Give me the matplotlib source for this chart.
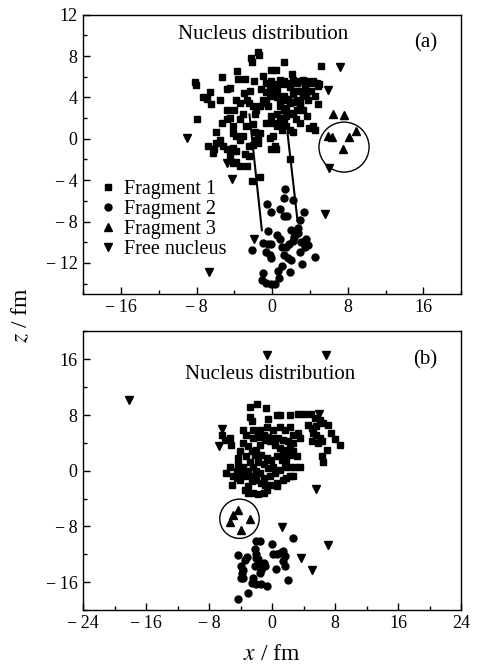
import matplotlib
matplotlib.use("Agg")
import matplotlib.pyplot as plt
from matplotlib.patches import Ellipse
from matplotlib.ticker import FixedLocator, MultipleLocator

plt.rcParams['font.family'] = ['Liberation Serif', 'DejaVu Serif']
plt.rcParams['mathtext.fontset'] = 'stix'

# ---- panel (a) data (x, z) in fm ----
a_frag1 = [(-2.2, 7.8), (-1.5, 8.4), (-1.4, 8.1), (-2.1, 7.4), (1.3, 7.4), (-0.1, 6.7), (0.4, 6.7),
           (2.15, 6.3), (5.2, 7.0), (-3.7, 6.6), (-5.3, 6.0), (-3.6, 5.8), (-2.9, 5.8), (-1.9, 5.6),
           (-1.0, 6.1), (-8.2, 5.5), (-8.1, 5.2), (-6.6, 4.5), (-7.3, 4.0), (-6.9, 3.9), (-6.5, 3.4),
           (-8.0, 1.9), (-5.9, 0.7), (-5.5, 3.8), (-4.8, 4.8), (-4.5, 4.9), (-3.8, 3.8), (-3.4, 3.5),
           (-4.0, 2.8), (-4.8, 2.8), (-4.5, 2.0), (-4.8, 1.9), (-4.1, 1.2), (-3.4, 1.9), (-3.1, 2.4),
           (-2.7, 3.8), (-2.5, 3.5), (-2.0, 3.2), (-1.7, 2.8), (-1.8, 2.4), (-2.8, 1.2), (-2.0, 1.4),
           (-1.8, 0.7), (-4.1, 0.6), (-3.8, 0.3), (-3.4, -0.1), (-3.1, 0.3), (-5.9, -0.4), (-5.5, -0.1),
           (-6.2, -1.0), (-6.8, -0.7), (-6.3, -1.4), (-5.2, -0.7), (-4.8, -1.0), (-4.5, -1.4), (-4.1, -0.9),
           (-3.8, -1.2), (-4.5, -2.0), (-4.1, -2.3), (-3.8, -2.2), (-3.4, -2.6), (-2.7, -2.6), (-2.5, -0.7),
           (-2.0, -0.6), (-1.5, -0.4), (-1.8, -0.1), (-1.5, 0.2), (-1.3, 0.6), (-2.15, -4.1), (-1.27, -3.7),
           (-0.6, 5.4), (-0.25, 5.1), (-0.1, 5.6), (0.5, 5.3), (0.8, 5.7), (1.2, 5.6), (1.3, 5.3),
           (1.7, 5.4), (1.9, 5.0), (2.2, 5.7), (2.6, 5.4), (2.9, 5.6), (3.3, 5.7), (3.5, 5.4), (3.6, 5.6),
           (4.0, 5.4), (4.3, 5.6), (4.7, 5.4), (4.9, 5.1), (5.0, 5.3), (4.1, 4.6), (4.5, 4.1), (4.3, 1.2),
           (4.5, 0.9), (4.9, 3.4), (-0.6, 4.5), (-0.25, 4.1), (0.1, 4.3), (0.5, 4.0), (0.8, 3.8),
           (1.2, 4.1), (1.5, 3.8), (1.9, 3.5), (2.2, 3.6), (2.6, 3.8), (2.9, 3.5), (3.3, 4.1), (3.6, 4.3),
           (3.8, 3.8), (-1.0, 3.8), (-0.6, 3.5), (-0.4, 3.2), (-1.3, 3.2), (-0.1, 2.2), (0.5, 2.4),
           (0.8, 2.0), (1.2, 1.9), (1.5, 2.2), (1.9, 2.4), (2.2, 2.5), (2.6, 2.8), (2.9, 3.2), (3.3, 2.8),
           (0.1, 1.5), (-0.6, 1.5), (0.5, 1.2), (0.8, 1.4), (1.5, 1.2), (1.9, 0.9), (2.2, 0.7), (2.9, 1.5),
           (0.1, 0.3), (-0.25, 0.1), (0.3, -0.7), (-0.1, -1.0), (0.4, -1.0), (1.9, -2.0), (1.7, 3.9),
           (2.2, 4.3), (3.1, 4.6), (3.5, 4.9), (2.6, 4.6), (1.2, 2.8), (0.8, 3.2), (1.5, 3.0), (0.1, 4.9),
           (0.5, 4.6), (-3.0, 4.4), (-2.3, 4.6), (-1.2, 4.8), (-5.3, 1.5), (-2.9, -1.5), (-2.4, -1.7),
           (3.7, 2.2), (3.9, 1.0), (2.5, 1.9), (1.0, 0.9)]
a_frag2 = [(1.4, -4.9), (1.2, -5.7), (2.2, -5.9), (-0.5, -6.3), (0.8, -6.8), (-0.1, -7.1), (1.2, -7.5),
           (1.6, -7.5), (3.4, -7.1), (2.9, -7.9), (2.7, -8.6), (2.0, -8.8), (-0.4, -8.9), (0.5, -9.3),
           (2.7, -9.1), (2.3, -9.5), (2.2, -9.9), (1.8, -10.2), (3.6, -9.7), (3.1, -10.0), (3.8, -10.3),
           (3.5, -10.5), (2.9, -10.9), (0.8, -9.7), (1.0, -10.5), (1.5, -10.5), (1.3, -11.2), (1.7, -11.5),
           (2.0, -11.7), (-1.0, -10.1), (-0.4, -10.2), (-0.1, -10.2), (-0.6, -10.9), (-0.25, -11.2),
           (-0.1, -11.5), (-2.1, -10.8), (4.5, -11.4), (3.2, -12.1), (1.0, -12.3), (0.6, -12.8),
           (1.9, -12.9), (-1.0, -13.0), (-1.1, -13.7), (-0.6, -13.9), (-0.1, -14.0), (0.3, -14.0),
           (0.7, -13.5)]
a_frag3 = [(6.4, 2.4), (7.6, 2.35), (5.9, 0.26), (6.3, 0.16), (8.15, 0.2), (8.9, 0.75), (7.45, -1.0)]
a_free = [(-9.0, 0.1), (7.2, 6.9), (5.9, 4.7), (6.0, -2.8), (5.6, -7.3), (-4.3, -3.9), (-4.8, -2.3),
          (-6.7, -12.9), (-1.9, -9.7)]
a_lines = [[(-2.4, 2.35), (-1.09, -8.85)], [(1.62, 0.58), (2.68, -7.9)]]
a_circle = (7.6, -0.8, 5.3, 4.84)  # centre x, z, width, height

# ---- panel (b) data ----
b_frag1 = [(-1.9, 9.6), (-2.8, 9.1), (-0.8, 9.0), (0.55, 8.0), (1.0, 8.0), (-0.5, 7.4), (-2.8, 7.7),
           (-2.6, 7.1), (2.2, 8.0), (3.3, 8.1), (4.1, 8.1), (4.9, 8.1), (5.4, 7.5), (6.1, 7.3), (6.5, 6.8),
           (7.1, 6.5), (7.5, 5.4), (8.0, 4.5), (8.6, 3.7), (4.6, 6.6), (5.0, 6.1), (5.6, 6.4), (5.2, 5.4),
           (5.6, 5.2), (6.1, 4.7), (5.0, 4.2), (5.8, 4.0), (6.3, 4.2), (6.9, 3.0), (6.3, 2.05), (6.4, 1.3),
           (-6.4, 5.2), (-6.0, 4.4), (-5.4, 4.7), (-5.2, 3.7), (-5.4, 0.6), (-5.8, -0.4), (-5.0, -0.8),
           (-5.1, -2.0), (-4.3, 0.9), (-4.5, -0.1), (-4.1, -1.3), (-3.5, -2.7), (-3.05, -2.2),
           (-3.05, -3.2), (-2.4, -3.2), (-1.8, -3.4), (-1.1, -3.2), (-0.7, -2.7), (-0.9, -2.0),
           (-0.3, -2.1), (0.55, -2.2), (0.55, -1.8), (1.4, -1.3), (1.8, -1.05), (2.2, -0.8), (2.7, -0.8),
           (2.9, 0.6), (3.5, 0.6), (3.1, 2.05), (2.7, 2.8), (-3.7, 5.9), (-3.3, 5.2), (-2.4, 5.9),
           (-1.6, 5.9), (-0.7, 6.35), (0.1, 5.9), (1.0, 6.35), (1.6, 5.9), (2.2, 6.35), (2.7, 5.2),
           (3.3, 5.4), (3.5, 4.7), (2.7, 4.0), (2.2, 3.5),
           (-3.7, 4.0), (-3.05, 3.5), (-2.6, 2.8), (-2.2, 2.3), (-3.3, 2.05), (-2.8, 1.3), (-2.4, 0.6),
           (-2.0, -0.1), (-3.7, 0.6), (-3.05, -0.1), (-2.4, -0.8), (-1.6, -0.3), (-1.1, -1.05),
           (-0.3, -0.8), (0.3, -0.3), (1.0, 0.15), (1.6, 0.6), (1.8, 1.6), (1.4, 2.5), (1.0, 3.25),
           (0.3, 3.7), (-0.3, 4.2), (-0.9, 4.4), (-1.6, 3.7), (-2.0, 3.0), (-1.4, 2.3), (-0.7, 1.8),
           (-0.1, 1.6), (0.55, 2.05), (1.2, 1.6), (0.1, 0.6), (-0.5, 0.4), (-1.1, 0.9), (-1.8, 1.3),
           (-2.4, 4.7), (-1.8, 4.9), (-1.1, 5.2), (-0.5, 4.9), (0.1, 4.7), (0.8, 4.7), (1.4, 4.4),
           (2.0, 4.2), (1.8, 3.0), (2.2, 2.3), (2.2, 0.6), (-3.3, -0.8), (-2.6, -1.5), (-2.0, -1.3),
           (-1.4, -1.8), (-4.1, 2.8), (-4.3, 1.8), (-3.9, -0.3), (-4.5, -1.05)]
b_frag2 = [(-2.0, -10.1), (-1.6, -10.1), (0.04, -10.5), (2.7, -9.7), (-4.3, -12.1), (-3.25, -12.4),
           (-3.5, -12.8), (-2.2, -11.3), (-2.0, -12.0), (-2.0, -12.5), (-1.8, -12.7), (-3.9, -13.7),
           (-3.7, -14.2), (-3.8, -14.7), (-4.0, -15.4), (-3.7, -15.4), (-2.2, -13.7), (-1.8, -13.5),
           (-1.1, -13.2), (-0.9, -13.7), (-1.4, -14.2), (-1.6, -14.7), (-2.4, -15.4), (-2.6, -16.1),
           (-2.0, -16.3), (-1.4, -16.3), (-0.7, -16.6), (-3.05, -17.5), (-4.3, -18.5), (0.5, -14.1),
           (0.1, -12.0), (0.55, -12.0), (1.0, -11.8), (1.4, -11.6), (1.6, -12.3), (1.4, -13.0),
           (1.6, -13.7), (2.0, -15.7)]
b_frag3 = [(-4.4, -5.6), (-4.96, -6.3), (-5.4, -7.3), (-2.8, -6.9), (-4.0, -8.45)]
b_free = [(-0.7, 16.6), (6.8, 16.6), (-18.2, 10.2), (5.9, 8.2), (-6.4, 6.0), (-6.7, 3.5), (5.6, -2.6),
          (1.2, -8.1), (7.1, -10.7), (3.6, -12.6), (5.0, -14.2)]
b_circle = (-4.15, -6.9, 5.0, 5.64)

labels = ["Fragment 1", "Fragment 2", "Fragment 3", "Free nucleus"]
markers = ["s", "o", "^", "v"]
msizes = [4.8, 5.0, 5.5, 5.5]


def fmt(v):
    return ("\u2212\u2009%d" % abs(v)) if v < 0 else "%d" % v


def style_axes(ax, xt, yt, xminor, yminor):
    ax.xaxis.set_major_locator(FixedLocator(xt))
    ax.set_xticklabels([fmt(v) for v in xt])
    ax.yaxis.set_major_locator(FixedLocator(yt))
    ax.set_yticklabels([fmt(v) for v in yt])
    ax.xaxis.set_minor_locator(MultipleLocator(xminor))
    ax.yaxis.set_minor_locator(MultipleLocator(yminor))
    ax.tick_params(which="both", direction="in", top=False, right=False, labelsize=13, pad=4)
    ax.tick_params(which="major", length=5, width=1)
    ax.tick_params(which="minor", length=3, width=1)
    for s in ax.spines.values():
        s.set_linewidth(1.0)


def draw_points(ax, groups):
    for pts, m, ms, lab in zip(groups, markers, msizes, labels):
        xs = [p[0] for p in pts]
        zs = [p[1] for p in pts]
        ax.plot(xs, zs, linestyle="none", marker=m, markersize=ms, color="black", label=lab)


fig = plt.figure(figsize=(4.83, 6.71), dpi=100)
axa = fig.add_axes([0.172, 0.562, 0.783, 0.416])
axb = fig.add_axes([0.172, 0.091, 0.783, 0.415])

# panel (a)
draw_points(axa, [a_frag1, a_frag2, a_frag3, a_free])
for seg in a_lines:
    axa.plot([seg[0][0], seg[1][0]], [seg[0][1], seg[1][1]], color="black", lw=1.5)
axa.add_patch(Ellipse(a_circle[:2], a_circle[2], a_circle[3], fill=False, ec="black", lw=1.0))
axa.set_xlim(-20, 20)
axa.set_ylim(-15, 12)
style_axes(axa, [-16, -8, 0, 8, 16], [-12, -8, -4, 0, 4, 8, 12], 4, 2)
axa.text(-1, 10.1, "Nucleus distribution", ha="center", va="center", fontsize=15)
axa.text(16.2, 9.3, "(a)", ha="center", va="center", fontsize=15)
axa.legend(loc="upper left", bbox_to_anchor=(0.045, 0.41), frameon=False, fontsize=14.5,
           handlelength=0.8, handletextpad=0.4, labelspacing=0.05, borderpad=0, borderaxespad=0)

# panel (b)
draw_points(axb, [b_frag1, b_frag2, b_frag3, b_free])
axb.add_patch(Ellipse(b_circle[:2], b_circle[2], b_circle[3], fill=False, ec="black", lw=1.0))
axb.set_xlim(-24, 24)
axb.set_ylim(-20, 20)
style_axes(axb, [-24, -16, -8, 0, 8, 16, 24], [-16, -8, 0, 8, 16], 4, 4)
axb.text(-0.3, 13.75, "Nucleus distribution", ha="center", va="center", fontsize=15)
axb.text(19.4, 15.9, "(b)", ha="center", va="center", fontsize=15)

fig.text(0.045, 0.53, "$z$ / fm", rotation=90, ha="center", va="center", fontsize=17)
fig.text(0.563, 0.024, "$x$ / fm", ha="center", va="center", fontsize=17)

fig.savefig("out.png", dpi=100)
